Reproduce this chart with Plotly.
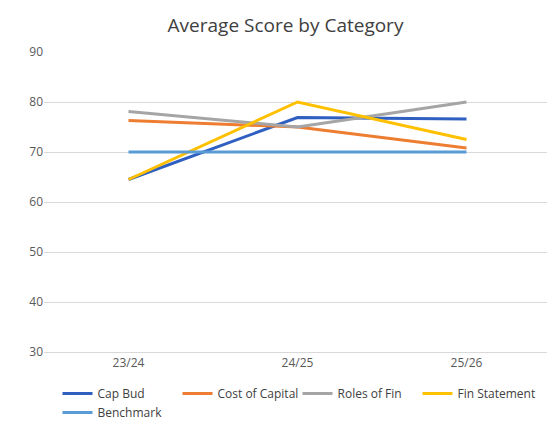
import plotly.graph_objects as go

periods = ["23/24", "24/25", "25/26"]
cap_bud = [64.5, 76.9, 76.6]
cost_of_capital = [76.3, 75.0, 70.8]
roles_of_fin = [78.1, 75.0, 80.0]
fin_statement = [64.5, 80.0, 72.5]
benchmark = [70, 70, 70]

series = [
    ("Cap Bud", cap_bud, "#2F5FC0"),
    ("Cost of Capital", cost_of_capital, "#ED7D31"),
    ("Roles of Fin", roles_of_fin, "#A5A5A5"),
    ("Fin Statement", fin_statement, "#FFC000"),
    ("Benchmark", benchmark, "#5B9BD5"),
]

fig = go.Figure()
for name, vals, color in series:
    fig.add_trace(go.Scatter(x=periods, y=vals, name=name, mode="lines",
                             line=dict(color=color, width=3)))

fig.update_layout(
    width=555, height=444,
    title=dict(text="Average Score by Category", x=0.5, y=0.96, yanchor="middle",
               font=dict(size=19, color="#404040")),
    font=dict(family="Open Sans, Liberation Sans, sans-serif", color="#595959", size=12),
    plot_bgcolor="white", paper_bgcolor="white",
    margin=dict(l=36, r=12, t=44, b=100),
    xaxis=dict(showgrid=False, showline=True, linecolor="#D9D9D9", ticks="",
               range=[-0.5, 2.5]),
    yaxis=dict(range=[30, 90], dtick=10, gridcolor="#D9D9D9", zeroline=False,
               showline=False),
    legend=dict(orientation="h", x=0.5, xanchor="center", y=-0.09, yanchor="top",
                font=dict(size=12, color="#404040"), entrywidth=75,
                tracegroupgap=0),
)

fig.write_html("out.html")
